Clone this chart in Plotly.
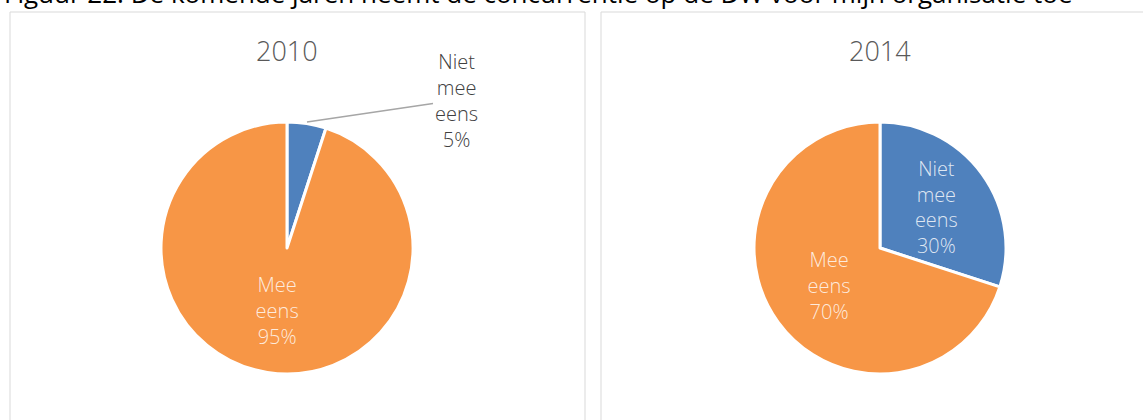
import plotly.graph_objects as go

W, H = 1143, 420
caption = "Figuur 22: De komende jaren neemt de concurrentie op de DW voor mijn organisatie toe"
years = ["2010", "2014"]
labels = ["Niet mee eens", "Mee eens"]
values_2010 = [5, 95]
values_2014 = [30, 70]
colors = ["#4F81BD", "#F79646"]
FONT = "Open Sans"

def px(x):
    return x / W

def py(y):
    return 1 - y / H

fig = go.Figure()

inner_font = dict(family=FONT, size=20, color="rgba(255,255,255,0.82)", weight=300)

fig.add_trace(go.Pie(
    labels=labels, values=values_2010, sort=False, direction="clockwise", rotation=0,
    marker=dict(colors=colors, line=dict(color="white", width=3)),
    texttemplate=["", "Mee<br>eens<br>%{percent:.0%}"],
    textposition="inside", insidetextorientation="horizontal",
    textfont=inner_font,
    domain=dict(x=[px(161), px(413)], y=[py(374), py(122)]),
    showlegend=False, hoverinfo="label+percent",
))
fig.add_trace(go.Pie(
    labels=labels, values=values_2014, sort=False, direction="clockwise", rotation=0,
    marker=dict(colors=colors, line=dict(color="white", width=3)),
    texttemplate=["Niet<br>mee<br>eens<br>%{percent:.0%}", "Mee<br>eens<br>%{percent:.0%}"],
    textposition="inside", insidetextorientation="horizontal",
    textfont=inner_font,
    domain=dict(x=[px(754), px(1006)], y=[py(374), py(122)]),
    showlegend=False, hoverinfo="label+percent",
))

annotations = [
    dict(text=caption, x=px(2), y=py(13), xref="paper", yref="paper", xanchor="left",
         yanchor="bottom", showarrow=False,
         font=dict(family=FONT, size=26, color="#000000", weight=400)),
    dict(text=years[0], x=px(287), y=py(50), xref="paper", yref="paper", showarrow=False,
         xanchor="center", yanchor="middle",
         font=dict(family=FONT, size=27, color="#595959", weight=300)),
    dict(text=years[1], x=px(880), y=py(50), xref="paper", yref="paper", showarrow=False,
         xanchor="center", yanchor="middle",
         font=dict(family=FONT, size=27, color="#595959", weight=300)),
    dict(text="Niet<br>mee<br>eens<br>%d%%" % values_2010[0], x=px(307), y=py(122),
         xref="paper", yref="paper", ax=149, ay=-22, showarrow=True, arrowhead=0,
         xanchor="center", yanchor="middle",
         arrowwidth=1.5, arrowcolor="#a6a6a6", standoff=0, startstandoff=0,
         font=dict(family=FONT, size=20, color="#404040", weight=300)),
]

shapes = [
    dict(type="rect", xref="paper", yref="paper", x0=px(10), x1=px(585), y0=py(440), y1=py(12),
         line=dict(color="#d9d9d9", width=1), fillcolor="rgba(0,0,0,0)"),
    dict(type="rect", xref="paper", yref="paper", x0=px(601), x1=px(1160), y0=py(440), y1=py(12),
         line=dict(color="#d9d9d9", width=1), fillcolor="rgba(0,0,0,0)"),
]

fig.update_layout(
    width=W, height=H, margin=dict(l=0, r=0, t=0, b=0),
    paper_bgcolor="white", plot_bgcolor="white",
    annotations=annotations, shapes=shapes,
)
fig.write_html("out.html", config={"displayModeBar": False},
               post_script="document.body.style.margin='0';")
